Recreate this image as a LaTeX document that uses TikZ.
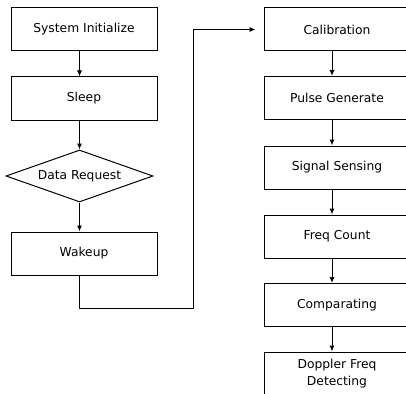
\documentclass[tikz,border=0pt]{standalone}
\usepackage{fontspec}
\setmainfont{DejaVu Sans}
\usetikzlibrary{shapes.geometric,arrows.meta}
\begin{document}
\begin{tikzpicture}[x=1pt,y=-1pt,->,>={Latex[length=6pt,width=5pt]},font=\fontsize{12.3}{17}\selectfont]
        \tikzstyle{stage}=[rectangle,draw=black,line width=1pt,minimum width=146pt,minimum height=43pt,inner sep=0pt]
        \tikzstyle{decision}=[diamond,draw=black,line width=1pt,minimum width=147pt,minimum height=52pt,inner sep=0pt,aspect=2.8]
        \tikzstyle{edge}=[draw,line width=1pt]
        \useasboundingbox (0,0) rectangle (406,393);
       \begin{scope}
         \node [stage] (init) at (84,29) {System Initialize};
         \node [stage] (sleep) at (84,98.5) {Sleep};
         \node [decision] (req) at (79.5,176) {Data Request};
         \node [stage] (wake) at (84,253.5) {Wakeup};
         \path[edge] (init.south -| req.center) -- (sleep.north -| req.center);
         \path[edge] (sleep.south -| req.center) -- (req.north);
         \path[edge] (req.south) -- (wake.north -| req.center);
        \end{scope}
       \begin{scope}
         \coordinate (rcol) at (332,0);
         \node [stage] (cal) at (337,29.5) {Calibration};
         \node [stage] (pulse) at (337,98) {Pulse Generate};
         \node [stage] (sense) at (337,167.5) {Signal Sensing};
         \node [stage] (count) at (337,236.5) {Freq Count};
         \node [stage] (comp) at (337,305) {Comparating};
         \node [stage,align=center] (doppler) at (337,373.5) {Doppler Freq\\Detecting};
         \path[edge] (cal.south -| rcol) -- (pulse.north -| rcol);
         \path[edge] (pulse.south -| rcol) -- (sense.north -| rcol);
         \path[edge] (sense.south -| rcol) -- (count.north -| rcol);
         \path[edge] (count.south -| rcol) -- (comp.north -| rcol);
         \path[edge] (comp.south -| rcol) -- (doppler.north -| rcol);
        \end{scope}
        % wakeup back to calibration
        \coordinate (turn) at (193,308);
        \path[edge,shorten >=8pt] (wake.south -| req.center) |- (turn) |- (cal.west);
      \end{tikzpicture}
\end{document}
